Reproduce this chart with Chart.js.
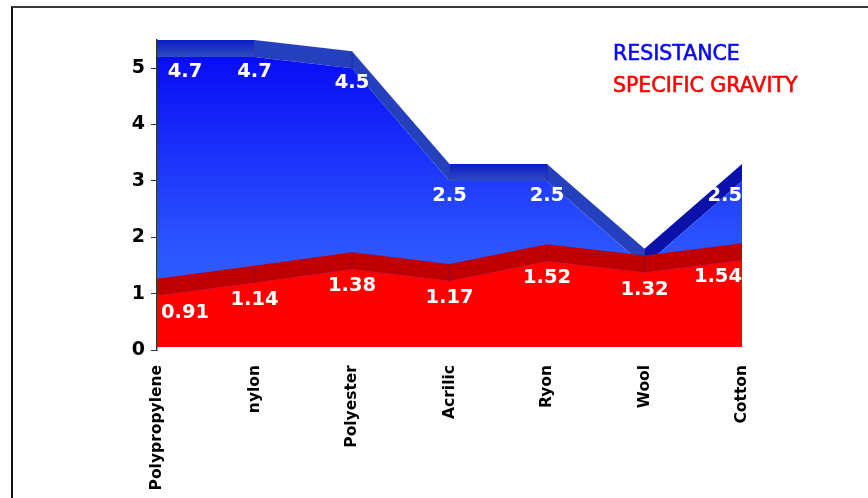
<!DOCTYPE html>
<html>
<head>
<meta charset="utf-8">
<script src="https://cdn.jsdelivr.net/npm/chart.js@4.4.0/dist/chart.umd.min.js"></script>
<style>
html, body { margin: 0; padding: 0; background: #fff; }
#wrap { position: relative; width: 868px; height: 498px; overflow: hidden; }
#frame { position: absolute; left: 11px; top: 6px; width: 900px; height: 600px; border-top: 2px solid #3a3a3a; border-left: 2px solid #111; }
canvas { position: absolute; left: 0; top: 0; }
</style>
</head>
<body>
<div id="wrap">
    <div id="frame"></div>
    <canvas id="chart" width="868" height="498"></canvas>
</div>
<script>
// Chart data
const categories = ['Polypropylene', 'nylon', 'Polyester', 'Acrilic', 'Ryon', 'Wool', 'Cotton'];
const resistance = [4.7, 4.7, 4.5, 2.5, 2.5, 1.0, 2.5];
const specificGravity = [0.91, 1.14, 1.38, 1.17, 1.52, 1.32, 1.54];
const yTicks = [0, 1, 2, 3, 4, 5];

// 3D look (pixels)
const DEPTH = 17;
const LIFT = { blue: 28, red: 3 };

const FONT = "'DejaVu Sans', Verdana, sans-serif";

// Draws the two areas as 3D ribbons using the chart scales
const area3d = {
    id: 'area3d',
    beforeDatasetsDraw(chart) {
        const ctx = chart.ctx;
        const xs = chart.scales.x;
        const ys = chart.scales.y;
        const area = chart.chartArea;

        const drawSeries = (values, lift, faceFill, bandFlat, bandDown, bandUp, sepColor) => {
            const front = values.map((v, i) => ({ x: xs.getPixelForValue(i), y: ys.getPixelForValue(v) - lift }));
            const back = front.map(p => ({ x: p.x, y: p.y - DEPTH }));
            const base = ys.getPixelForValue(0) - lift;

            // top faces
            for (let i = 0; i < front.length - 1; i++) {
                const a = front[i], b = front[i + 1];
                ctx.beginPath();
                ctx.moveTo(a.x, a.y);
                ctx.lineTo(b.x, b.y);
                ctx.lineTo(back[i + 1].x, back[i + 1].y);
                ctx.lineTo(back[i].x, back[i].y);
                ctx.closePath();
                if (Math.abs(a.y - b.y) < 0.5) {
                    ctx.fillStyle = bandFlat(back[i].y, a.y);
                } else if (b.y > a.y) {
                    ctx.fillStyle = bandDown;
                } else {
                    ctx.fillStyle = bandUp;
                }
                ctx.fill();
            }
            // edges between faces
            ctx.strokeStyle = sepColor;
            ctx.lineWidth = 1;
            for (let i = 1; i < front.length - 1; i++) {
                ctx.beginPath();
                ctx.moveTo(front[i].x, front[i].y);
                ctx.lineTo(back[i].x, back[i].y);
                ctx.stroke();
            }

            // front face
            ctx.beginPath();
            ctx.moveTo(front[0].x, base);
            front.forEach(p => ctx.lineTo(p.x, p.y));
            ctx.lineTo(front[front.length - 1].x, base);
            ctx.closePath();
            ctx.fillStyle = faceFill(base);
            ctx.fill();
        };

        ctx.save();

        // resistance (behind)
        drawSeries(resistance, LIFT.blue,
            (base) => {
                const g = ctx.createLinearGradient(0, area.top, 0, base);
                g.addColorStop(0, '#0606f4');
                g.addColorStop(0.75, '#2c56ff');
                g.addColorStop(1, '#3162ff');
                return g;
            },
            (y0, y1) => {
                const g = ctx.createLinearGradient(0, y0, 0, y1);
                g.addColorStop(0, '#0c1cc4');
                g.addColorStop(1, '#2e4cc2');
                return g;
            },
            '#2440bc', '#0a12aa', 'rgba(20,30,150,0.6)');

        // specific gravity (front)
        drawSeries(specificGravity, LIFT.red,
            () => '#ff0000',
            () => '#c00000',
            '#c00000', '#c00000', 'rgba(140,0,30,0.7)');

        ctx.restore();
    },
    afterDatasetsDraw(chart) {
        const ctx = chart.ctx;
        const xs = chart.scales.x;
        const ys = chart.scales.y;
        const area = chart.chartArea;

        ctx.save();
        ctx.font = 'bold 19.5px ' + FONT;
        ctx.fillStyle = '#ffffff';
        ctx.textAlign = 'center';
        ctx.textBaseline = 'middle';

        const place = (text, px) => {
            const w = ctx.measureText(text).width;
            let cx = Math.max(px, area.left + 28);
            cx = Math.min(cx, area.right - w / 2);
            return cx;
        };

        resistance.forEach((v, i) => {
            // label hidden when the blue edge sits behind the red ribbon
            const blueFront = ys.getPixelForValue(v) - LIFT.blue;
            const redBack = ys.getPixelForValue(specificGravity[i]) - LIFT.red - DEPTH;
            if (blueFront > redBack) return;
            const text = String(v);
            ctx.fillText(text, place(text, xs.getPixelForValue(i)), ys.getPixelForValue(v) - 13);
        });

        specificGravity.forEach((v, i) => {
            const text = v.toFixed(2);
            ctx.fillText(text, place(text, xs.getPixelForValue(i)), ys.getPixelForValue(v) + 14);
        });
        ctx.restore();
    },
    afterDraw(chart) {
        // text legend, top right
        const ctx = chart.ctx;
        ctx.save();
        ctx.font = '20.5px ' + FONT;
        ctx.textAlign = 'left';
        ctx.textBaseline = 'middle';
        ctx.lineWidth = 0.6;
        chart.data.datasets.forEach((ds, i) => {
            ctx.fillStyle = ds.borderColor;
            ctx.strokeStyle = ds.borderColor;
            ctx.fillText(ds.label, 613, 55 + i * 32);
            ctx.strokeText(ds.label, 613, 55 + i * 32);
        });
        ctx.restore();
    }
};

const chart = new Chart(document.getElementById('chart').getContext('2d'), {
    type: 'line',
    data: {
        labels: categories,
        datasets: [{
            label: 'RESISTANCE',
            data: resistance,
            borderColor: '#0a0aee',
            showLine: false,
            pointRadius: 0,
            fill: false
        }, {
            label: 'SPECIFIC GRAVITY',
            data: specificGravity,
            borderColor: '#ff0000',
            showLine: false,
            pointRadius: 0,
            fill: false
        }]
    },
    options: {
        responsive: false,
        animation: false,
        layout: {
            padding: { top: 40, right: 126, left: 0, bottom: 0 }
        },
        scales: {
            x: {
                type: 'category',
                offset: false,
                grid: { display: false, drawTicks: false },
                border: { display: false },
                ticks: {
                    autoSkip: false,
                    minRotation: 90,
                    maxRotation: 90,
                    padding: 15,
                    color: '#000',
                    font: { family: FONT, weight: 'bold', size: 15.5 }
                },
                afterFit: (s) => { s.height = 148; }
            },
            y: {
                min: 0,
                max: 5.5,
                z: 1,
                grid: { display: true, drawOnChartArea: false, drawTicks: true, tickLength: 6, color: '#333' },
                border: { display: true, color: '#333', width: 1.5 },
                ticks: {
                    padding: 6,
                    color: '#000',
                    font: { family: FONT, weight: 'bold', size: 19 }
                },
                afterBuildTicks: (s) => { s.ticks = yTicks.map(v => ({ value: v })); },
                afterFit: (s) => { s.width = 157; }
            }
        },
        plugins: {
            legend: { display: false },
            tooltip: { enabled: false }
        }
    },
    plugins: [area3d]
});
</script>
</body>
</html>
